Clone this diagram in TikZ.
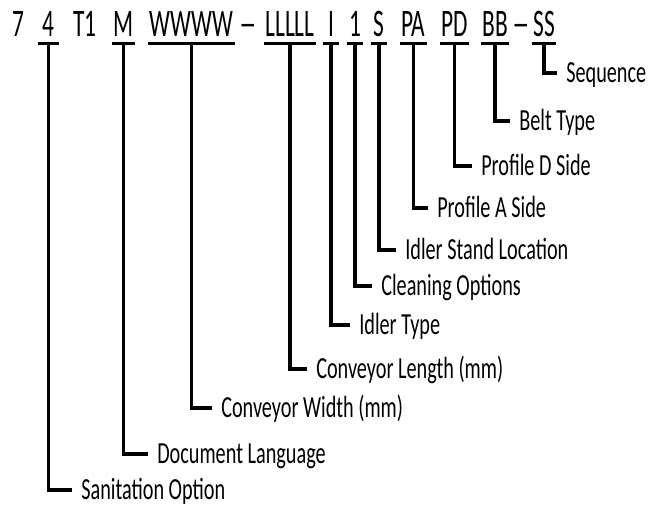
\documentclass[tikz,border=0pt]{standalone}
\usepackage{fontspec}
\usepackage{tikz}
\newfontfamily\codefont[FakeStretch=0.6]{Carlito}
\newfontfamily\tagfont[FakeStretch=0.66]{Carlito}

\tikzset{
  code/.style={font=\codefont\fontsize{29.25pt}{30pt}\selectfont, anchor=base, inner xsep=1pt, inner ysep=5.6pt, text height=19pt, text depth=0pt, minimum width=11.25pt},
  tag/.style={font=\tagfont\fontsize{23pt}{24pt}\selectfont, anchor=west, inner xsep=6.75pt, inner ysep=0pt, text height=14.5pt, text depth=0pt},
  leg/.style={line width=2.6pt}
}

\begin{document}
\begin{tikzpicture}[x=0.75pt,y=0.75pt,yscale=-1,xscale=1]
\useasboundingbox (0,0) rectangle (648,507);

% Code Nodes
\node [code] (c7) at (18.5,36) {7};
\node [code, minimum width=15.75pt] (c4) at (48.5,36) {4};
\node [code] (cT1) at (85,36) {T1};
\node [code] (cM) at (123.5,36) {M};
\node [code] (cW) at (191.5,36) {WWWW};
\node [code] (dashA) at (248.5,36) {\scalebox{1.5}[1]{–}};
\node [code] (cL) at (290,36) {LLLLL};
\node [code] (cI) at (331,36) {I};
\node [code] (c1) at (355,36) {1};
\node [code] (cS) at (379,36) {S};
\node [code] (cPA) at (413.5,36) {PA};
\node [code] (cPD) at (454.5,36) {PD};
\node [code] (cBB) at (495,36) {BB};
\node [code] (dashB) at (521,36) {\scalebox{1.5}[1]{–}};
\node [code] (cSS) at (544,36) {SS};

% Text Node
\node [tag] (seq) at (557,73) {Sequence};
% Text Node
\node [tag] (belt) at (510,121) {Belt Type};
% Text Node
\node [tag] (profD) at (472,166) {Profile D Side};
% Text Node
\node [tag] (profA) at (428,208) {Profile A Side};
% Text Node
\node [tag] (stand) at (396,250) {Idler Stand Location};
% Text Node
\node [tag] (clean) at (372,286) {Cleaning Options};
% Text Node
\node [tag] (idler) at (350,325) {Idler Type};
% Text Node
\node [tag] (length) at (307,369) {Conveyor Length (mm)};
% Text Node
\node [tag] (width) at (212,408) {Conveyor Width (mm)};
% Text Node
\node [tag] (lang) at (148,454) {Document Language};
% Text Node
\node [tag] (sanit) at (72,490) {Sanitation Option};

%Straight Lines
\draw [leg] (c4.south west) -- (c4.south east) ;
\draw [leg] (c4.south) |- (sanit.west) ;
%Straight Lines
\draw [leg] (cM.south west) -- (cM.south east) ;
\draw [leg] (cM.south) |- (lang.west) ;
%Straight Lines
\draw [leg] (cW.south west) -- (cW.south east) ;
\draw [leg] (cW.south) |- (width.west) ;
%Straight Lines
\draw [leg] (cL.south west) -- (cL.south east) ;
\draw [leg] (cL.south) |- (length.west) ;
%Straight Lines
\draw [leg] (cI.south west) -- (cI.south east) ;
\draw [leg] (cI.south) |- (idler.west) ;
%Straight Lines
\draw [leg] (c1.south west) -- (c1.south east) ;
\draw [leg] (c1.south) |- (clean.west) ;
%Straight Lines
\draw [leg] (cS.south west) -- (cS.south east) ;
\draw [leg] (cS.south) |- (stand.west) ;
%Straight Lines
\draw [leg] (cPA.south west) -- (cPA.south east) ;
\draw [leg] (cPA.south) |- (profA.west) ;
%Straight Lines
\draw [leg] (cPD.south west) -- (cPD.south east) ;
\draw [leg] (cPD.south) |- (profD.west) ;
%Straight Lines
\draw [leg] (cBB.south west) -- (cBB.south east) ;
\draw [leg] (cBB.south) |- (belt.west) ;
%Straight Lines
\draw [leg] (cSS.south west) -- (cSS.south east) ;
\draw [leg] (cSS.south) |- (seq.west) ;

\end{tikzpicture}
\end{document}
